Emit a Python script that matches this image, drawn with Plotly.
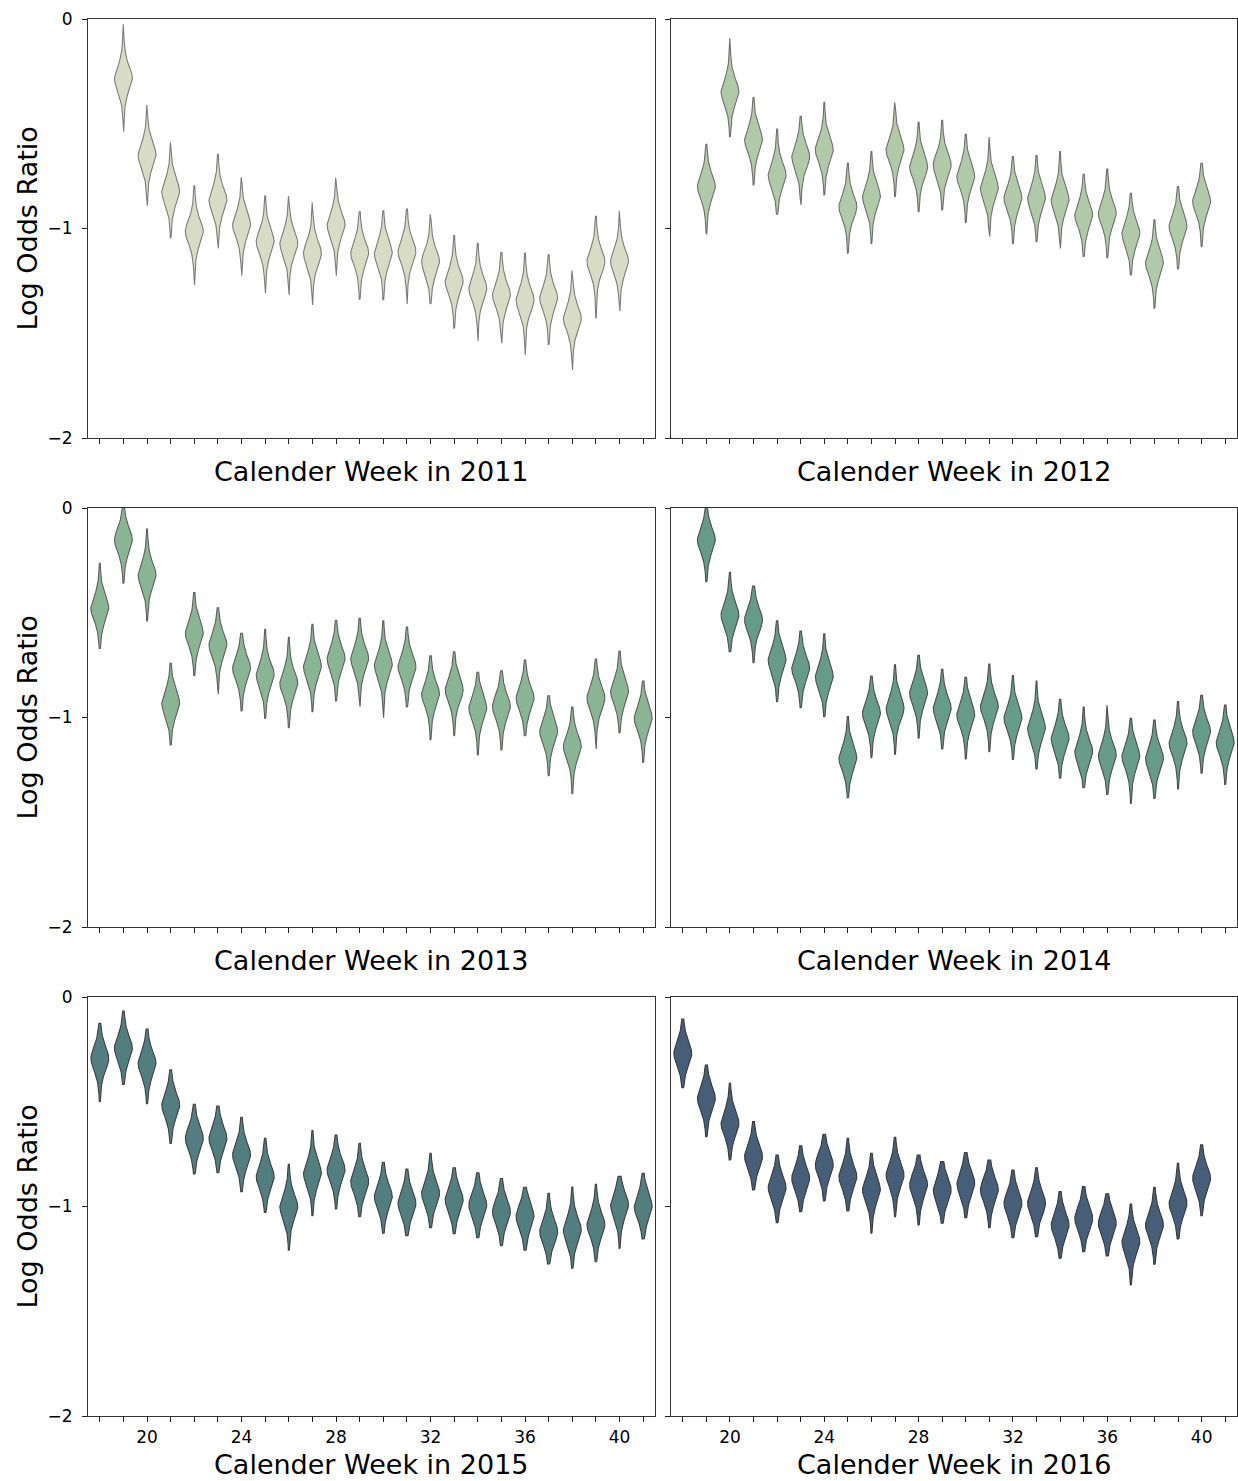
import numpy as np
import plotly.graph_objects as go
from plotly.subplots import make_subplots

# ---- data: per-week log odds ratio posterior summaries (center, upper tail, lower tail)
weeks_2011 = list(range(19, 41))
center_2011 = [-0.283, -0.649, -0.824, -1.015, -0.864, -0.983, -1.063, -1.071, -1.118, -0.983, -1.118,
               -1.118, -1.110, -1.158, -1.254, -1.286, -1.317, -1.341, -1.333, -1.429, -1.158, -1.158]
upper_2011 = [-0.025, -0.410, -0.589, -0.796, -0.646, -0.756, -0.845, -0.845, -0.875, -0.757, -0.920,
              -0.915, -0.907, -0.932, -1.034, -1.071, -1.114, -1.117, -1.126, -1.201, -0.942, -0.915]
lower_2011 = [-0.538, -0.891, -1.044, -1.270, -1.095, -1.225, -1.309, -1.317, -1.365, -1.225, -1.338,
              -1.341, -1.360, -1.359, -1.476, -1.537, -1.548, -1.604, -1.553, -1.675, -1.429, -1.394]

weeks_2012 = list(range(19, 41))
center_2012 = [-0.800, -0.347, -0.578, -0.745, -0.657, -0.625, -0.896, -0.848, -0.625, -0.705, -0.697,
               -0.753, -0.808, -0.856, -0.856, -0.864, -0.936, -0.928, -1.023, -1.166, -0.991, -0.872]
upper_2012 = [-0.598, -0.092, -0.376, -0.525, -0.465, -0.398, -0.689, -0.633, -0.398, -0.493, -0.484,
              -0.550, -0.563, -0.657, -0.652, -0.633, -0.741, -0.716, -0.832, -0.958, -0.800, -0.689]
lower_2012 = [-1.028, -0.562, -0.792, -0.932, -0.888, -0.840, -1.118, -1.072, -0.848, -0.920, -0.912,
              -0.971, -1.039, -1.072, -1.063, -1.095, -1.134, -1.139, -1.222, -1.381, -1.193, -1.087]

weeks_2013 = list(range(18, 42))
center_2013 = [-0.479, -0.153, -0.320, -0.932, -0.598, -0.654, -0.765, -0.797, -0.837, -0.757, -0.718, -0.718,
               -0.749, -0.757, -0.889, -0.869, -0.956, -0.948, -0.908, -1.068, -1.139, -0.908, -0.877, -1.004]
upper_2013 = [-0.264, 0.000, -0.100, -0.741, -0.403, -0.476, -0.598, -0.579, -0.617, -0.555, -0.536, -0.527,
              -0.539, -0.568, -0.706, -0.686, -0.784, -0.776, -0.726, -0.896, -0.950, -0.721, -0.683, -0.826]
lower_2013 = [-0.670, -0.359, -0.539, -1.131, -0.800, -0.888, -0.969, -1.004, -1.049, -0.972, -0.921, -0.948,
              -1.001, -0.950, -1.106, -1.087, -1.179, -1.155, -1.087, -1.278, -1.364, -1.150, -1.072, -1.214]

weeks_2014 = list(range(19, 42))
center_2014 = [-0.153, -0.511, -0.535, -0.726, -0.765, -0.805, -1.195, -0.980, -0.956, -0.885, -0.956, -0.988,
               -0.948, -1.004, -1.052, -1.100, -1.163, -1.179, -1.187, -1.195, -1.123, -1.068, -1.120]
upper_2014 = [0.000, -0.307, -0.372, -0.539, -0.587, -0.601, -0.996, -0.802, -0.749, -0.703, -0.770, -0.808,
              -0.745, -0.800, -0.826, -0.913, -0.950, -0.940, -1.004, -1.012, -0.924, -0.894, -0.940]
lower_2014 = [-0.352, -0.686, -0.738, -0.924, -0.953, -0.996, -1.383, -1.192, -1.176, -1.099, -1.150, -1.198,
              -1.163, -1.200, -1.246, -1.290, -1.335, -1.367, -1.410, -1.386, -1.341, -1.266, -1.320]

weeks_2015 = list(range(18, 42))
center_2015 = [-0.293, -0.245, -0.317, -0.516, -0.675, -0.675, -0.754, -0.858, -1.001, -0.842, -0.826, -0.882,
               -0.953, -0.985, -0.937, -0.969, -0.993, -1.025, -1.049, -1.120, -1.112, -1.088, -0.993, -1.001]
upper_2015 = [-0.126, -0.067, -0.153, -0.348, -0.512, -0.520, -0.574, -0.675, -0.799, -0.638, -0.659, -0.698,
              -0.789, -0.821, -0.746, -0.815, -0.839, -0.866, -0.908, -0.937, -0.907, -0.894, -0.856, -0.842]
lower_2015 = [-0.500, -0.417, -0.509, -0.699, -0.845, -0.839, -0.929, -1.028, -1.208, -1.044, -1.012, -1.049,
              -1.128, -1.139, -1.101, -1.130, -1.149, -1.187, -1.208, -1.274, -1.295, -1.264, -1.200, -1.155]

weeks_2016 = list(range(18, 41))
center_2016 = [-0.269, -0.484, -0.603, -0.762, -0.910, -0.866, -0.802, -0.858, -0.921, -0.850, -0.897, -0.921,
               -0.889, -0.921, -0.985, -0.985, -1.088, -1.057, -1.080, -1.168, -1.088, -0.985, -0.866]
upper_2016 = [-0.105, -0.325, -0.412, -0.595, -0.754, -0.710, -0.655, -0.675, -0.746, -0.670, -0.754, -0.786,
              -0.742, -0.778, -0.826, -0.815, -0.929, -0.905, -0.939, -0.988, -0.908, -0.794, -0.706]
lower_2016 = [-0.433, -0.667, -0.778, -0.921, -1.077, -1.025, -0.974, -1.021, -1.128, -1.049, -1.088, -1.080,
              -1.053, -1.101, -1.149, -1.144, -1.247, -1.216, -1.236, -1.375, -1.276, -1.155, -1.044]

years = [2011, 2012, 2013, 2014, 2015, 2016]
fill_colors = ["#d8dcc4", "#b0c9a8", "#89b595", "#669b8a", "#527e80", "#465e78"]
edge_colors = ["#7c7c7c", "#6f6f6f", "#5f5f5f", "#4d4d4d", "#3f3f3f", "#393939"]

series = {
    2011: (weeks_2011, center_2011, upper_2011, lower_2011),
    2012: (weeks_2012, center_2012, upper_2012, lower_2012),
    2013: (weeks_2013, center_2013, upper_2013, lower_2013),
    2014: (weeks_2014, center_2014, upper_2014, lower_2014),
    2015: (weeks_2015, center_2015, upper_2015, lower_2015),
    2016: (weeks_2016, center_2016, upper_2016, lower_2016),
}

all_weeks = list(range(18, 42))
week_ticktext = [str(w) if w % 4 == 0 else "" for w in all_weeks]

HALF_WIDTH = 0.38   # half width of a violin in category units
BODY_SCALE = 0.066  # spread of the violin body (log-odds units)
NU = 3.0


def violin_outline(x0, c, top, bot):
    """Closed outline of a violin centred on x0, peaked at c, with tails to top/bot."""
    y = np.linspace(bot, top, 240)
    d = (y - c) / BODY_SCALE
    h = HALF_WIDTH * (1.0 + d ** 2 / NU) ** (-(NU + 1) / 2)
    xs = np.concatenate([x0 + h, (x0 - h)[::-1], [x0 + h[0]]])
    ys = np.concatenate([y, y[::-1], [y[0]]])
    return xs, ys


fig = make_subplots(rows=3, cols=2, horizontal_spacing=0.02, vertical_spacing=0.05)

W, H = 1238, 1481
x_dom = [[88 / W, 655 / W], [671 / W, 1237 / W]]
y_pix = [(19, 438), (508, 927), (997, 1416)]
y_dom = [[1 - b / H, 1 - t / H] for t, b in y_pix]

font_family = "DejaVu Sans"
TITLE_SIZE = 27
annotations = []

for i, yr in enumerate(years):
    row, col = i // 2 + 1, i % 2 + 1
    wk, cen, up, lo = series[yr]
    px, py = [], []
    for w, c, t, b in zip(wk, cen, up, lo):
        xs, ys = violin_outline(w, c, t, b)
        px.extend(xs.tolist() + [None])
        py.extend(ys.tolist() + [None])
    fig.add_trace(
        go.Scatter(
            x=px, y=py, mode="lines", fill="toself",
            fillcolor=fill_colors[i],
            line=dict(color=edge_colors[i], width=1.1),
            hoverinfo="skip", showlegend=False,
        ),
        row=row, col=col,
    )

    bottom_row = row == 3
    fig.update_xaxes(
        range=[17.5, 41.5], domain=x_dom[col - 1],
        tickmode="array", tickvals=all_weeks, ticktext=week_ticktext,
        showticklabels=bottom_row, ticks="outside", ticklen=5, tickwidth=1, tickcolor="#222",
        ticklabelstandoff=1,
        showline=True, mirror=True, linecolor="#333", linewidth=1,
        showgrid=False, zeroline=False,
        tickfont=dict(family=font_family, size=17, color="black"),
        row=row, col=col,
    )
    fig.update_yaxes(
        range=[-2, 0], domain=y_dom[row - 1],
        tickmode="array", tickvals=[0, -1, -2], ticktext=["0", "\u22121", "\u22122"],
        showticklabels=(col == 1), ticks="outside", ticklen=5, tickwidth=1, tickcolor="#222",
        ticklabelstandoff=6,
        showline=True, mirror=True, linecolor="#333", linewidth=1,
        showgrid=False, zeroline=False,
        tickfont=dict(family=font_family, size=17, color="black"),
        row=row, col=col,
    )

    # axis titles
    xc = (x_dom[col - 1][0] + x_dom[col - 1][1]) / 2
    if bottom_row:
        title_pos = dict(y=0.0, yanchor="bottom", borderpad=0)
    else:
        title_pos = dict(y=1 - (y_pix[row - 1][1] + 33) / H, yanchor="middle")
    annotations.append(dict(
        text=f"Calender Week in {yr}", x=xc, xref="paper", yref="paper", xanchor="center",
        showarrow=False, font=dict(family=font_family, size=TITLE_SIZE, color="black"), **title_pos,
    ))
    if col == 1:
        yc = (y_dom[row - 1][0] + y_dom[row - 1][1]) / 2
        annotations.append(dict(
            text="Log Odds Ratio", x=27 / W, y=yc,
            xref="paper", yref="paper", xanchor="center", yanchor="middle",
            textangle=-90, showarrow=False,
            font=dict(family=font_family, size=TITLE_SIZE, color="black"),
        ))

fig.update_layout(
    width=W, height=H,
    margin=dict(l=0, r=0, t=0, b=0, autoexpand=False),
    paper_bgcolor="white", plot_bgcolor="white",
    annotations=annotations,
    font=dict(family=font_family),
)

fig.write_html("out.html")
